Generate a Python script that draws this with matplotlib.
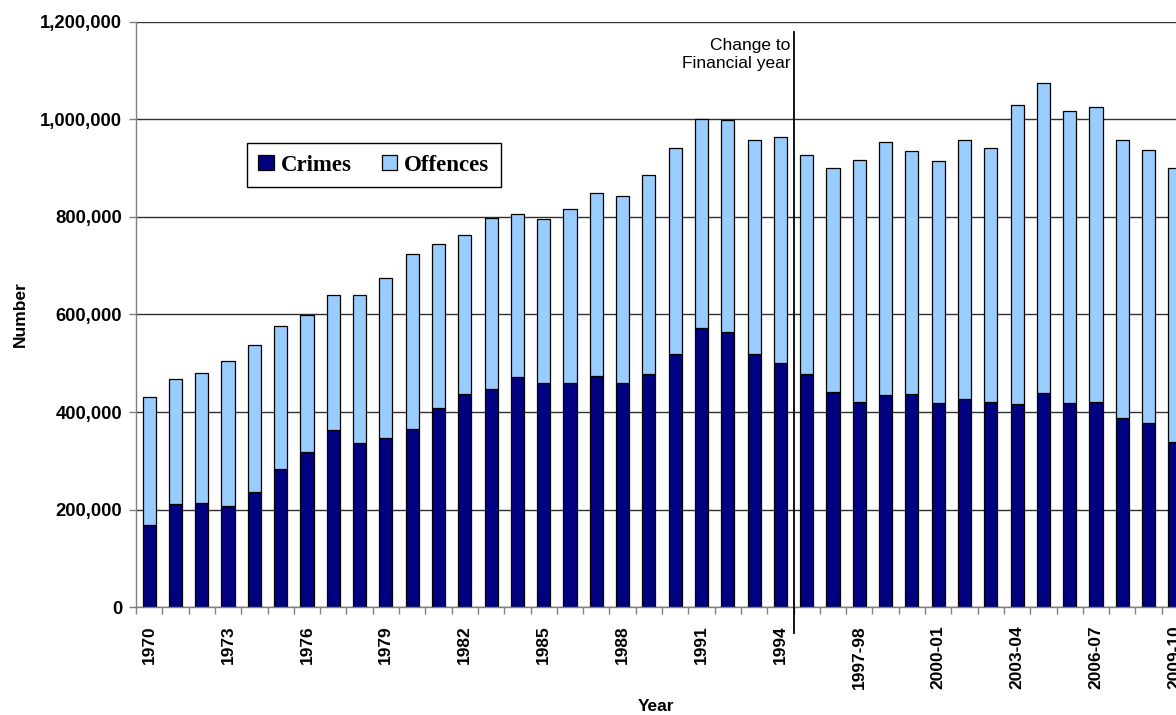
#Recorded crimes and offences, stacked bars

import matplotlib
matplotlib.use('Agg')
import matplotlib.pyplot as plt
from matplotlib.ticker import FuncFormatter, FixedLocator

years=['1970','1971','1972','1973','1974','1975','1976','1977','1978','1979',
       '1980','1981','1982','1983','1984','1985','1986','1987','1988','1989',
       '1990','1991','1992','1993','1994','1995-96','1996-97','1997-98','1998-99','1999-00',
       '2000-01','2001-02','2002-03','2003-04','2004-05','2005-06','2006-07','2007-08','2008-09','2009-10']
crimes=[167900,211600,213700,208200,234900,282600,318800,363800,335800,347400,
        365200,408900,436200,446400,471700,458700,459400,473000,458700,478500,
        519500,572700,564500,518100,501000,478500,441600,421200,434800,436200,
        419100,427300,419800,415700,438200,418400,419800,387000,378200,338600]
offences=[263500,255300,266200,295600,302300,292800,279800,277200,305200,326600,
          359500,334900,326100,350800,334500,337900,357700,377000,384800,408600,
          422000,428700,433500,440400,463600,448700,459800,495800,519600,498500,
          495200,529800,522400,613600,637300,598600,606100,570100,559200,562800]
labelEvery=3
changeAt=24.5   #between 1994 and 1995-96

plt.rcParams['font.family']=['Liberation Sans','DejaVu Sans']

fig=plt.figure(figsize=(11.76,7.15),dpi=100)
ax=fig.add_axes([136/1176,108/715,1040/1176,585/715])

x=list(range(len(years)))
ax.bar(x,crimes,width=0.5,color='#000080',edgecolor='black',linewidth=0.9,label='Crimes',zorder=2)
ax.bar(x,offences,width=0.5,bottom=crimes,color='#99CCFF',edgecolor='black',linewidth=0.9,label='Offences',zorder=2)

ax.set_ylim(0,1200000)
ax.set_xlim(-0.5,39.04)
ax.set_yticks(range(0,1200001,200000))
ax.yaxis.set_major_formatter(FuncFormatter(lambda v,p:'{:,.0f}'.format(v)))
ax.yaxis.grid(True,color='#303030',linewidth=1,zorder=0)
ax.set_axisbelow(True)

ticks=x[::labelEvery]
ax.set_xticks(ticks)
ax.set_xticklabels([years[i] for i in ticks],rotation=90,fontweight='bold',fontsize=12.5)
ax.xaxis.set_minor_locator(FixedLocator([i-0.5 for i in range(len(years)+1)]))
ax.tick_params(axis='x',which='major',length=0,pad=13)
ax.tick_params(axis='x',which='minor',length=5,color='#808080',width=1)
ax.tick_params(axis='y',length=5,color='#808080',width=1,labelsize=13.3,pad=5)
for t in ax.get_yticklabels():
    t.set_fontweight('bold')

for s in ['top','right']:
    ax.spines[s].set_visible(False)
for s in ['left','bottom']:
    ax.spines[s].set_color('#808080')
    ax.spines[s].set_linewidth(1)

ax.set_ylabel('Number',fontweight='bold',fontsize=12.5)
ax.yaxis.set_label_coords(-0.104,0.5)
ax.set_xlabel('Year',fontweight='bold',fontsize=12.5)
ax.xaxis.set_label_coords(0.5,-0.157)

#change to financial year marker
trans=ax.get_xaxis_transform()
ax.plot([changeAt,changeAt],[-0.044,0.983],color='black',linewidth=1.3,transform=trans,clip_on=False,zorder=3)
ax.text(changeAt-0.12,0.972,'Change to\nFinancial year',transform=trans,ha='right',va='top',
        fontsize=12.5,linespacing=1.25)

leg=ax.legend(loc='upper left',bbox_to_anchor=(0.1067,0.793),ncol=2,frameon=True,fancybox=False,
              framealpha=1,edgecolor='black',borderaxespad=0,borderpad=0.5,
              handlelength=0.68,handleheight=0.68,handletextpad=0.3,columnspacing=1.3,
              prop={'family':'Liberation Serif','weight':'bold','size':16.5})
leg.get_frame().set_linewidth(1)

plt.savefig('out.png',dpi=100)
